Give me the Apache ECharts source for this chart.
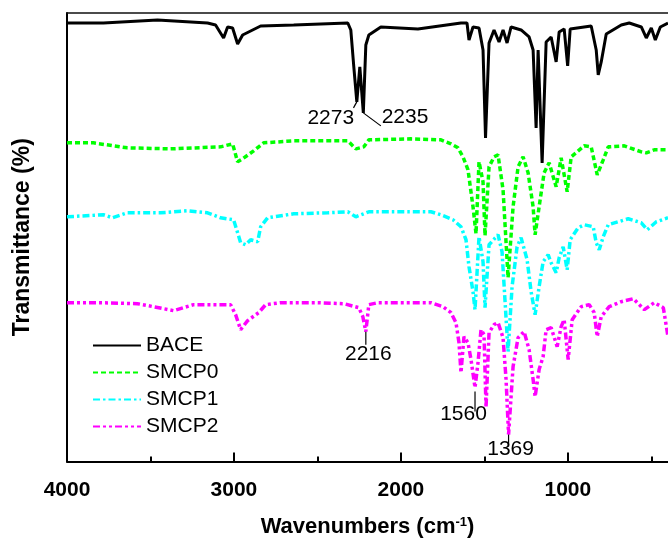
<!DOCTYPE html>
<html>
<head>
<meta charset="utf-8">
<script src="https://cdn.jsdelivr.net/npm/echarts@6/dist/echarts.min.js"></script>
<style>
  html, body { margin: 0; padding: 0; background: #fff; }
  #chart_ftir { width: 668px; height: 543px; }
</style>
</head>
<body>
<div id="chart_ftir"></div>
<script>
// wavenumber (cm-1), transmittance offset (a.u.)
const bace = [
  [4000, 439], [3782, 439], [3458, 442], [3158, 439], [3110, 437], [3062, 424], [3038, 435],
  [3008, 434], [2978, 418], [2948, 427], [2912, 430], [2840, 436], [2642, 437], [2318, 439],
  [2300, 432], [2282, 395], [2264, 360], [2246, 395], [2225, 349], [2210, 417], [2192, 427],
  [2120, 435], [1898, 433], [1640, 439], [1604, 439], [1592, 422], [1568, 435], [1532, 434],
  [1508, 412], [1493, 324], [1472, 419], [1442, 432], [1412, 420], [1388, 432], [1364, 419],
  [1340, 435], [1280, 432], [1232, 425], [1208, 412], [1190, 334], [1178, 412], [1154, 299],
  [1130, 420], [1100, 425], [1070, 400], [1052, 430], [1022, 433], [1001, 396], [986, 433],
  [860, 436], [830, 412], [818, 387], [800, 400], [770, 428], [680, 437], [632, 439],
  [560, 435], [530, 424], [500, 434], [476, 422], [446, 435], [400, 439]
];
const smcp0 = [
  [4000, 319], [3842, 319], [3638, 314], [3380, 313], [3080, 315], [3008, 318], [2978, 300],
  [2948, 303], [2882, 311], [2822, 319], [2642, 321], [2318, 321], [2270, 313], [2222, 315],
  [2192, 322], [1940, 323], [1760, 322], [1700, 318], [1658, 314], [1628, 305], [1598, 292],
  [1568, 255], [1550, 228], [1532, 300], [1508, 280], [1496, 226], [1472, 295], [1442, 305],
  [1418, 307], [1388, 272], [1358, 184], [1328, 255], [1298, 295], [1268, 305], [1238, 289],
  [1208, 255], [1196, 227], [1172, 255], [1142, 289], [1112, 299], [1070, 275], [1040, 304],
  [1004, 270], [980, 305], [902, 316], [860, 315], [824, 287], [788, 302], [758, 315],
  [662, 316], [560, 310], [530, 309], [482, 312], [400, 312]
];
const smcp1 = [
  [4000, 245], [3782, 247], [3728, 244], [3638, 249], [3440, 249], [3278, 251], [3158, 249],
  [3080, 244], [3002, 242], [2978, 229], [2960, 219], [2930, 217], [2900, 222], [2858, 220],
  [2840, 235], [2798, 244], [2642, 248], [2438, 249], [2318, 250], [2270, 245], [2192, 250],
  [1940, 250], [1820, 250], [1760, 247], [1688, 242], [1640, 235], [1610, 222], [1592, 195],
  [1568, 170], [1556, 152], [1532, 225], [1508, 200], [1496, 154], [1472, 217], [1418, 227],
  [1394, 210], [1376, 160], [1358, 110], [1334, 175], [1304, 215], [1280, 224], [1244, 202],
  [1220, 170], [1196, 147], [1172, 175], [1148, 200], [1118, 207], [1100, 199], [1070, 189],
  [1052, 204], [1028, 215], [1004, 192], [986, 222], [938, 234], [902, 237], [848, 235],
  [830, 219], [812, 212], [788, 225], [758, 237], [698, 240], [638, 243], [560, 239],
  [524, 232], [470, 240], [400, 244]
];
const smcp2 = [
  [4000, 159], [3818, 159], [3578, 158], [3482, 155], [3362, 151], [3242, 157], [3020, 157],
  [2990, 147], [2960, 132], [2918, 141], [2852, 149], [2810, 157], [2720, 159], [2498, 159],
  [2342, 158], [2252, 154], [2228, 145], [2210, 130], [2192, 157], [2138, 159], [1820, 159],
  [1748, 155], [1700, 149], [1670, 139], [1652, 119], [1640, 89], [1622, 125], [1598, 119],
  [1580, 102], [1556, 74], [1538, 99], [1520, 132], [1502, 127], [1490, 54], [1472, 129],
  [1442, 137], [1418, 139], [1388, 124], [1370, 82], [1355, 27], [1328, 95], [1298, 124],
  [1262, 130], [1232, 112], [1208, 82], [1196, 65], [1172, 92], [1148, 105], [1130, 132],
  [1100, 134], [1064, 115], [1040, 135], [1022, 142], [998, 102], [974, 142], [920, 155],
  [872, 157], [842, 149], [824, 125], [800, 145], [752, 155], [680, 160], [608, 163],
  [542, 152], [482, 159], [428, 154], [400, 125]
];
const tickValues = [4000, 3500, 3000, 2500, 2000, 1500, 1000, 500];
const labelValues = [4000, 3000, 2000, 1000];
// peak marks: text, line start, line end, text anchor, text align
const peakNotes = [
  { text: '2273', from: [2264, 360], to: [2284, 354], at: [2280, 344], align: 'right' },
  { text: '2235', from: [2225, 349], to: [2120, 336], at: [2115, 345], align: 'left' },
  { text: '2216', from: [2210, 130], to: [2210, 117], at: [2195, 107], align: 'center' },
  { text: '1560', from: [1556, 70], to: [1556, 50], at: [1625, 47], align: 'center' },
  { text: '1369', from: [1355, 27], to: [1355, 15], at: [1343, 12], align: 'center' }
];

const FONT = '"Liberation Sans", Arial, sans-serif';

const myChart = echarts.init(document.getElementById('chart_ftir'));
const option = {
  animation: false,
  backgroundColor: '#fff',
  grid: { left: 67, right: 0, top: 13, bottom: 81 },
  legend: {
    orient: 'vertical',
    left: 92,
    top: 335,
    padding: 0,
    itemWidth: 48,
    itemHeight: 14,
    itemGap: 6,
    itemStyle: { opacity: 0 },
    textStyle: { fontFamily: FONT, fontSize: 21, color: '#000', lineHeight: 20 },
    data: ['BACE', 'SMCP0', 'SMCP1', 'SMCP2']
  },
  xAxis: [
    {
      type: 'value',
      min: 400,
      max: 4000,
      inverse: true,
      position: 'bottom',
      name: '{a|Wavenumbers (cm}{s|-1}{a|)}',
      nameLocation: 'middle',
      nameGap: 54,
      nameTextStyle: {
        rich: {
          a: { fontFamily: FONT, fontSize: 22, fontWeight: 'bold', color: '#000' },
          s: { fontFamily: FONT, fontSize: 13, fontWeight: 'bold', color: '#000', verticalAlign: 'top', padding: [0, 0, 10, 0] }
        }
      },
      axisLine: { show: true, lineStyle: { color: '#000', width: 2 } },
      axisTick: { show: true, inside: true, length: 9, lineStyle: { color: '#000', width: 2 }, customValues: labelValues },
      axisLabel: {
        show: true, margin: 18, fontFamily: FONT, fontSize: 21, fontWeight: 'bold', color: '#000',
        customValues: labelValues, formatter: v => String(v)
      },
      splitLine: { show: false }
    },
    {
      type: 'value',
      min: 400,
      max: 4000,
      inverse: true,
      position: 'bottom',
      axisLine: { show: false },
      axisTick: { show: true, inside: true, length: 5, lineStyle: { color: '#000', width: 2 }, customValues: tickValues },
      axisLabel: { show: false },
      splitLine: { show: false }
    },
    {
      type: 'value',
      min: 400,
      max: 4000,
      inverse: true,
      position: 'top',
      axisLine: { show: true, lineStyle: { color: '#111', width: 1.5 } },
      axisTick: { show: false },
      axisLabel: { show: false },
      splitLine: { show: false }
    }
  ],
  yAxis: {
    type: 'value',
    min: 0,
    max: 449,
    name: 'Transmittance (%)',
    nameLocation: 'middle',
    nameGap: 33,
    nameTextStyle: { fontFamily: FONT, fontSize: 23, fontWeight: 'bold', color: '#000' },
    axisLine: { show: true, lineStyle: { color: '#000', width: 2 } },
    axisTick: { show: false },
    axisLabel: { show: false },
    splitLine: { show: false }
  },
  series: [
    {
      name: 'BACE', type: 'line', data: bace, showSymbol: false, symbol: 'none',
      color: '#000', lineStyle: { color: '#000', width: 3 }
    },
    {
      name: 'SMCP0', type: 'line', data: smcp0, showSymbol: false, symbol: 'none',
      color: '#00ff00', lineStyle: { color: '#00ff00', width: 3.5, type: [5, 3] }
    },
    {
      name: 'SMCP1', type: 'line', data: smcp1, showSymbol: false, symbol: 'none',
      color: '#00ffff', lineStyle: { color: '#00ffff', width: 3.5, type: [7, 3, 2.5, 3] }
    },
    {
      name: 'SMCP2', type: 'line', data: smcp2, showSymbol: false, symbol: 'none',
      color: '#ff00ff', lineStyle: { color: '#ff00ff', width: 3.5, type: [7, 3, 3, 3, 3, 3] }
    }
  ]
};
myChart.setOption(option);

// peak labels, placed from data coordinates
const graphics = [];
peakNotes.forEach(n => {
  const p1 = myChart.convertToPixel({ xAxisIndex: 0, yAxisIndex: 0 }, n.from);
  const p2 = myChart.convertToPixel({ xAxisIndex: 0, yAxisIndex: 0 }, n.to);
  const pt = myChart.convertToPixel({ xAxisIndex: 0, yAxisIndex: 0 }, n.at);
  graphics.push({
    type: 'line',
    shape: { x1: p1[0], y1: p1[1], x2: p2[0], y2: p2[1] },
    style: { stroke: '#000', lineWidth: 1.2 },
    z: 10
  });
  graphics.push({
    type: 'text',
    x: pt[0],
    y: pt[1],
    style: {
      text: n.text, fill: '#000', font: '21px ' + FONT,
      textAlign: n.align, textVerticalAlign: 'middle'
    },
    z: 10
  });
});
myChart.setOption({ graphic: graphics });
</script>
</body>
</html>
